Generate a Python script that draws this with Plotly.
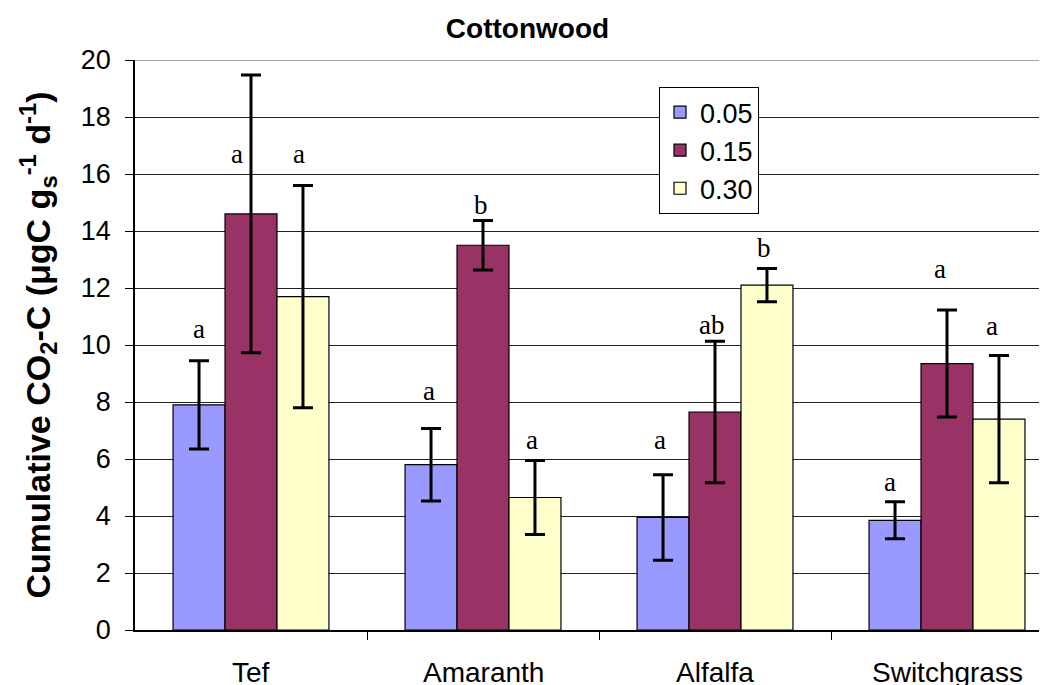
import plotly.graph_objects as go

categories = ["Tef", "Amaranth", "Alfalfa", "Switchgrass"]
series_names = ["0.05", "0.15", "0.30"]
colors = ["#9999FF", "#993366", "#FFFFCC"]

vals_005 = [7.9, 5.8, 3.95, 3.85]
vals_015 = [14.6, 13.5, 7.65, 9.35]
vals_030 = [11.7, 4.65, 12.1, 7.4]

err_005 = [1.55, 1.27, 1.5, 0.65]
err_015 = [4.87, 0.87, 2.48, 1.88]
err_030 = [3.9, 1.3, 0.58, 2.23]

letters_005 = ["a", "a", "a", "a"]
letters_015 = ["a", "b", "ab", "a"]
letters_030 = ["a", "a", "b", "a"]

letter_y_005 = [10.55, 8.4, 6.65, 5.2]
letter_y_015 = [16.7, 14.9, 10.7, 12.65]
letter_y_030 = [16.7, 6.65, 13.4, 10.65]

# small horizontal nudges of the significance letters (pixels)
letter_dx_005 = [0, -2, -3, -5]
letter_dx_015 = [-14, -2, -4, -7]
letter_dx_030 = [-4, -3, -3, -7]

values = [vals_005, vals_015, vals_030]
errors = [err_005, err_015, err_030]
letters = [letters_005, letters_015, letters_030]
letter_ys = [letter_y_005, letter_y_015, letter_y_030]
letter_dxs = [letter_dx_005, letter_dx_015, letter_dx_030]

xpos = list(range(len(categories)))
bargap = 0.328
bar_w = (1 - bargap) / 3

fig = go.Figure()
for i in range(3):
    fig.add_trace(go.Bar(
        x=xpos, y=values[i], name=series_names[i],
        legendgroup=series_names[i],
        marker=dict(color=colors[i], line=dict(color="black", width=1.2)),
        error_y=dict(type="data", array=errors[i], visible=True,
                     color="black", thickness=3, width=10),
    ))

annotations = []
for i in range(3):
    for j, c in enumerate(xpos):
        annotations.append(dict(
            x=c + (i - 1) * bar_w, y=letter_ys[i][j], xref="x", yref="y",
            xshift=letter_dxs[i][j],
            text=letters[i][j], showarrow=False,
            font=dict(family="Liberation Serif", size=27, color="black"),
            xanchor="center", yanchor="middle"))
for j, c in enumerate(xpos):
    annotations.append(dict(
        x=c, y=0, xref="x", yref="paper", text=categories[j], showarrow=False,
        yshift=-42, yanchor="middle", xanchor="center",
        font=dict(family="Liberation Sans", size=28, color="black")))

fig.update_layout(
    width=1039, height=677,
    margin=dict(l=127, r=0, t=52, b=55),
    paper_bgcolor="white", plot_bgcolor="white",
    barmode="group", bargap=bargap, bargroupgap=0,
    title=dict(text="<b>Cottonwood</b>", x=0.5, xanchor="center",
               y=1 - 20 / 677, yanchor="middle",
               font=dict(family="Liberation Sans", size=28, color="black")),
    font=dict(family="Liberation Sans", color="black"),
    showlegend=True,
    legend=dict(x=(659 - 135) / 912, y=(630 - 87) / 570, xanchor="left", yanchor="top",
                bgcolor="white", bordercolor="black", borderwidth=1,
                font=dict(family="Liberation Sans", size=27, color="black"),
                traceorder="normal", tracegroupgap=15),
    annotations=annotations,
    shapes=[dict(type="line", xref="paper", yref="y", x0=0, x1=1, y0=20, y1=20,
                 line=dict(color="#888888", width=1.5), layer="below")],
)

fig.update_xaxes(
    range=[-0.5, 3.431], tickmode="array", tickvals=[0.5, 1.5, 2.5],
    showticklabels=False, ticks="outside", ticklen=8, tickcolor="black",
    showline=True, linecolor="black", linewidth=1.5, showgrid=False, zeroline=False,
)
fig.update_yaxes(
    range=[0, 20], dtick=2, tick0=0, ticks="outside", ticklen=8, tickcolor="black",
    showline=True, linecolor="black", linewidth=1.5,
    showgrid=True, gridcolor="#222222", gridwidth=1.2, zeroline=False,
    tickfont=dict(family="Liberation Sans", size=27, color="black"),
    ticklabelstandoff=9,
    title=dict(text="<b>Cumulative CO<sub>2</sub>-C (μgC g<sub>s</sub><sup>-1</sup> d<sup>-1</sup>)</b>",
               font=dict(family="Liberation Sans", size=34, color="black"), standoff=20),
)

fig.write_html("out.html")
